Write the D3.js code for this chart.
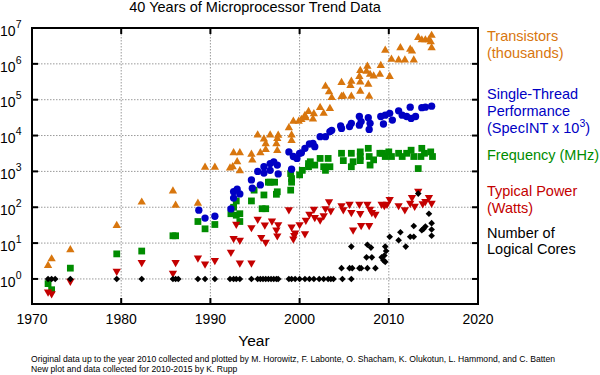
<!DOCTYPE html>
<html lang="en">
<head>
<meta charset="UTF-8">
<title>40 Years of Microprocessor Trend Data</title>
<script src="https://d3js.org/d3.v7.min.js"></script>
<style>
  body { margin: 0; background: #fff; }
  svg text { font-family: 'Liberation Sans', Arial, sans-serif; }
</style>
</head>
<body>
<svg id="chart" width="600" height="375"></svg>
<script>
// [year, value]
const transistors = [
  [1971.8,2.3],[1972.2,3.5],[1974.3,6.3],[1979.5,30],[1982.3,134],[1985.8,275],[1986.1,110],[1988.6,124],
  [1989.4,1250],[1990.5,1250],[1992.2,1200],[1992.5,1300],[1992.6,3200],[1993.3,3200],[1993.0,1800],[1993.3,1000],
  [1994.6,2900],[1994.7,2000],[1995.3,10000],[1995.6,3200],[1996.0,7700],[1996.2,5700],[1996.2,3900],[1996.7,10000],
  [1997.4,5700],[1997.6,9800],[1997.5,7900],[1997.5,3700],[1998.8,16000],[1999.1,10000],[1999.1,7000],[1999.3,24000],
  [1999.9,24000],[2000.2,27000],[2000.6,35000],[2000.7,30000],[2001.0,45000],[2001.5,28000],[2001.6,39000],[2002.3,58000],
  [2002.7,40000],[2003.4,55000],[2002.9,230000],[2003.3,160000],[2003.6,110000],[2004.7,290000],[2004.7,118000],[2004.9,123000],
  [2005.7,240000],[2005.8,316000],[2005.8,120000],[2006.8,630000],[2006.7,430000],[2006.8,300000],[2006.8,166000],
  [2007.6,830000],[2007.5,600000],[2007.9,490000],[2007.7,260000],[2007.8,120000],[2008.3,440000],[2009.1,870000],[2009.0,490000],
  [2009.6,2300000],[2010.1,430000],[2010.3,1300000],[2011.3,2700000],[2011.1,1230000],[2011.8,1230000],[2012.4,2450000],[2012.6,2200000],
  [2012.8,1230000],[2013.3,5200000],[2013.7,4500000],[2014.1,4500000],[2014.5,4500000],[2014.8,6000000],[2014.7,4000000],[2014.8,2700000]
];

const performance = [
  [1988.7,83],[1989.4,50],[1990.5,56],[1992.3,90],[1992.6,180],[1992.6,270],[1993.0,320],[1993.3,235],
  [1994.7,340],[1994.6,580],[1995.6,420],[1995.3,1000],[1996.0,1350],[1996.0,900],[1996.7,1650],[1997.1,1850],
  [1997.5,1500],[1997.6,850],[1996.7,1070],[1998.8,3500],[1999.3,2600],[1999.1,1150],[1999.7,2300],[2000.0,3200],
  [2000.2,3300],[2000.6,4400],[2001.1,5800],[2001.5,6000],[2001.7,4900],[2002.3,9300],[2002.9,9300],[2003.4,12900],
  [2003.6,14000],[2004.6,18600],[2004.7,15800],[2005.6,17800],[2005.8,21900],[2006.7,34000],[2006.9,24500],[2006.7,19500],
  [2007.7,31600],[2007.9,21900],[2007.8,14800],[2009.1,34000],[2009.6,37000],[2009.4,21000],[2010.1,41700],[2010.4,27000],
  [2011.1,49000],[2011.5,37000],[2012.0,34000],[2012.4,62000],[2012.5,30000],[2013.0,34000],[2013.7,60000],[2014.1,62000],
  [2014.8,66000]
];

const frequency = [
  [1971.8,0.74],[1972.2,0.5],[1974.3,2],[1979.5,5],[1982.3,6],[1985.8,16],[1986.1,16],[1988.6,40],
  [1989.4,25],[1990.5,33],[1992.3,66],[1992.6,100],[1992.9,60],[1993.3,66],[1993.3,40],[1992.9,150],
  [1994.6,150],[1994.9,300],[1995.8,91],[1996.2,91],[1996.0,220],[1996.7,500],[1996.5,500],[1997.2,500],
  [1997.5,270],[1997.4,230],[1999.0,300],[1999.1,500],[1999.0,870],[1999.1,630],[2000.0,800],[2000.3,1070],
  [2001.0,1650],[2001.2,1860],[2001.0,1350],[2001.7,1500],[2002.3,2300],[2002.7,1350],[2002.9,1070],[2003.2,2300],
  [2003.4,1350],[2004.7,3200],[2004.9,2000],[2005.8,3200],[2005.8,1350],[2006.0,1860],[2006.8,3500],[2006.8,2600],
  [2006.8,2000],[2007.7,4400],[2007.8,2600],[2007.9,1500],[2008.3,2100],[2009.0,3200],[2009.3,3200],[2009.6,2600],
  [2010.0,3500],[2010.3,2600],[2011.1,3200],[2011.5,2600],[2012.0,3200],[2012.5,3900],[2012.8,2600],[2013.3,1200],
  [2013.6,2600],[2014.0,3200],[2014.7,3500],[2014.9,2600],[2013.7,4400]
];

const power = [
  [1971.8,0.45],[1972.2,0.4],[1974.3,0.9],[1979.5,1.7],[1982.3,3],[1985.8,1.5],[1986.1,3],[1988.6,4],
  [1989.4,2.7],[1990.5,3.4],[1992.3,5.8],[1992.6,14],[1993.3,12.5],[1993.3,2.9],[1992.9,35],[1994.6,2.9],
  [1994.6,28],[1995.3,48],[1995.7,15],[1996.1,33],[1996.2,11],[1996.9,43],[1997.4,24],[1997.6,34],
  [1997.5,16.5],[1998.8,88],[1999.1,29],[1999.3,13.5],[1999.5,20],[1999.4,17],[2000.0,34],[2000.6,19],
  [2000.7,45],[2001.1,66],[2001.6,91],[2001.7,54],[2002.3,46],[2002.7,60],[2002.9,95],[2003.3,148],
  [2003.5,83],[2004.7,115],[2004.9,88],[2005.6,125],[2005.8,74],[2006.0,24],[2006.7,125],[2006.8,69],
  [2006.9,32],[2007.6,125],[2007.9,91],[2007.8,32],[2008.1,74],[2008.5,66],[2009.2,125],[2009.5,115],
  [2009.8,125],[2010.1,170],[2011.1,115],[2011.8,88],[2012.4,135],[2012.6,195],[2012.9,110],[2013.3,290],
  [2013.8,130],[2014.1,150],[2014.5,195],[2014.8,135]
];

const cores = [
  [1971.8,1],[1972.2,1],[1972.6,1],[1974.3,1],[1979.5,1],[1982.3,1],[1985.8,1],[1986.1,1],[1986.4,1],
  [1988.6,1],[1989.4,1],[1990.5,1],[1992.2,1],[1992.6,1],[1992.9,1],[1993.3,1],[1994.6,1],
  [1995.3,1],[1995.6,1],[1995.9,1],[1996.2,1],[1996.5,1],[1996.8,1],[1997.1,1],[1997.4,1],[1997.6,1],
  [1998.8,1],[1999.1,1],[1999.5,1],[2000.0,1],[2000.6,1],[2001.1,1],[2001.6,1],[2002.2,1],[2002.7,1],
  [2003.2,1],[2003.5,1],[2003.8,1],[2004.8,1],[2005.8,1],
  [2004.7,2],[2005.6,2],[2005.9,2],[2006.7,2],[2006.9,2],[2007.6,2],[2008.5,2],
  [2005.8,8],[2007.5,4],[2008.1,4],[2007.6,9],[2008.0,7.5],
  [2009.2,4],[2009.4,3.3],[2009.6,3],[2009.5,4.5],[2009.6,8],[2009.7,6],
  [2010.1,15],[2011.1,12],[2011.3,20],[2011.9,8],[2012.4,15],[2012.8,15],[2012.8,30],[2013.3,240],
  [2013.7,23],[2013.9,25],[2014.1,29],[2014.5,66],[2014.8,36],[2014.8,24],[2014.8,16]
];

const xTicks = [1970, 1980, 1990, 2000, 2010, 2020];
const yExponents = [0, 1, 2, 3, 4, 5, 6, 7];

const svg = d3.select("#chart");
const plot = { left: 32, right: 478, top: 28, bottom: 304 };

const x = d3.scaleLinear().domain([1970, 2020]).range([plot.left, plot.right]);
const y = d3.scaleLog().domain([0.2, 1e7]).range([plot.bottom, plot.top]);

// grid
const grid = svg.append("g").attr("stroke", "#9a9a9a").attr("stroke-width", 1).attr("stroke-dasharray", "1.5,1.5");
yExponents.slice(0, -1).forEach(e => {
  grid.append("line").attr("x1", plot.left).attr("x2", plot.right).attr("y1", y(10 ** e)).attr("y2", y(10 ** e));
});
xTicks.slice(1, -1).forEach(t => {
  grid.append("line").attr("x1", x(t)).attr("x2", x(t)).attr("y1", plot.top).attr("y2", plot.bottom);
});

// series
const series = [
  { data: transistors, color: "#d8760e", sym: d3.symbolTriangle, size: 30, rot: 0, dy: -0.5 },
  { data: frequency, color: "#008c00", sym: d3.symbolSquare, size: 46, rot: 0, dy: 0 },
  { data: performance, color: "#0000c4", sym: d3.symbolCircle, size: 42, rot: 0, dy: 0 },
  { data: power, color: "#c40000", sym: d3.symbolTriangle, size: 30, rot: 180, dy: 0.5 },
  { data: cores, color: "#000000", sym: d3.symbolSquare, size: 22, rot: 45, dy: 0 }
];
series.forEach(s => {
  const path = d3.symbol().type(s.sym).size(s.size)();
  svg.append("g").selectAll("path").data(s.data).enter().append("path")
    .attr("d", path)
    .attr("fill", s.color)
    .attr("transform", d => `translate(${x(d[0])},${y(d[1]) + s.dy}) rotate(${s.rot})`);
});

// frame and ticks
svg.append("rect").attr("x", plot.left).attr("y", plot.top)
  .attr("width", plot.right - plot.left).attr("height", plot.bottom - plot.top)
  .attr("fill", "none").attr("stroke", "#000").attr("stroke-width", 2);
const ticks = svg.append("g").attr("stroke", "#000").attr("stroke-width", 2);
yExponents.forEach(e => {
  const yy = y(10 ** e);
  ticks.append("line").attr("x1", plot.left).attr("x2", plot.left + 6).attr("y1", yy).attr("y2", yy);
  ticks.append("line").attr("x1", plot.right - 6).attr("x2", plot.right).attr("y1", yy).attr("y2", yy);
});
xTicks.forEach(t => {
  ticks.append("line").attr("x1", x(t)).attr("x2", x(t)).attr("y1", plot.bottom).attr("y2", plot.bottom - 6);
  ticks.append("line").attr("x1", x(t)).attr("x2", x(t)).attr("y1", plot.top).attr("y2", plot.top + 6);
});

// tick labels
xTicks.forEach(t => {
  svg.append("text").attr("x", x(t)).attr("y", 324).attr("text-anchor", "middle")
    .attr("font-size", 14).text(t);
});
yExponents.forEach(e => {
  const t = svg.append("text").attr("x", 21.5).attr("y", y(10 ** e) + 7.7).attr("text-anchor", "end")
    .attr("font-size", 14);
  t.append("tspan").text("10");
  t.append("tspan").attr("dy", -8).attr("font-size", 10.5).text(e);
});

// title and axis label
svg.append("text").attr("x", 255).attr("y", 12).attr("text-anchor", "middle")
  .attr("font-size", 14.5).text("40 Years of Microprocessor Trend Data");
svg.append("text").attr("x", 254).attr("y", 346).attr("text-anchor", "middle")
  .attr("font-size", 15.5).text("Year");

// series labels
const labels = [
  { lines: ["Transistors", "(thousands)"], ys: [41, 58], color: "#d8760e" },
  { lines: ["Single-Thread", "Performance", "(SpecINT x 10|3|)"], ys: [99, 116, 132.5], color: "#0000c4" },
  { lines: ["Frequency (MHz)"], ys: [160], color: "#008c00" },
  { lines: ["Typical Power", "(Watts)"], ys: [196, 212.5], color: "#c40000" },
  { lines: ["Number of", "Logical Cores"], ys: [237.7, 254.3], color: "#000000" }
];
labels.forEach(l => {
  l.lines.forEach((line, i) => {
    const t = svg.append("text").attr("x", 487).attr("y", l.ys[i]).attr("font-size", 14.5).attr("fill", l.color);
    const parts = line.split("|");
    t.append("tspan").text(parts[0]);
    if (parts.length > 1) {
      t.append("tspan").attr("dy", -6).attr("font-size", 10.5).text(parts[1]);
      t.append("tspan").attr("dy", 6).text(parts[2]);
    }
  });
});

// credits
const notes = [
  "Original data up to the year 2010 collected and plotted by M. Horowitz, F. Labonte, O. Shacham, K. Olukotun, L. Hammond, and C. Batten",
  "New plot and data collected for 2010-2015 by K. Rupp"
];
notes.forEach((n, i) => {
  svg.append("text").attr("x", 31).attr("y", 361.5 + i * 10).attr("font-size", 8.6).text(n);
});
</script>
</body>
</html>
